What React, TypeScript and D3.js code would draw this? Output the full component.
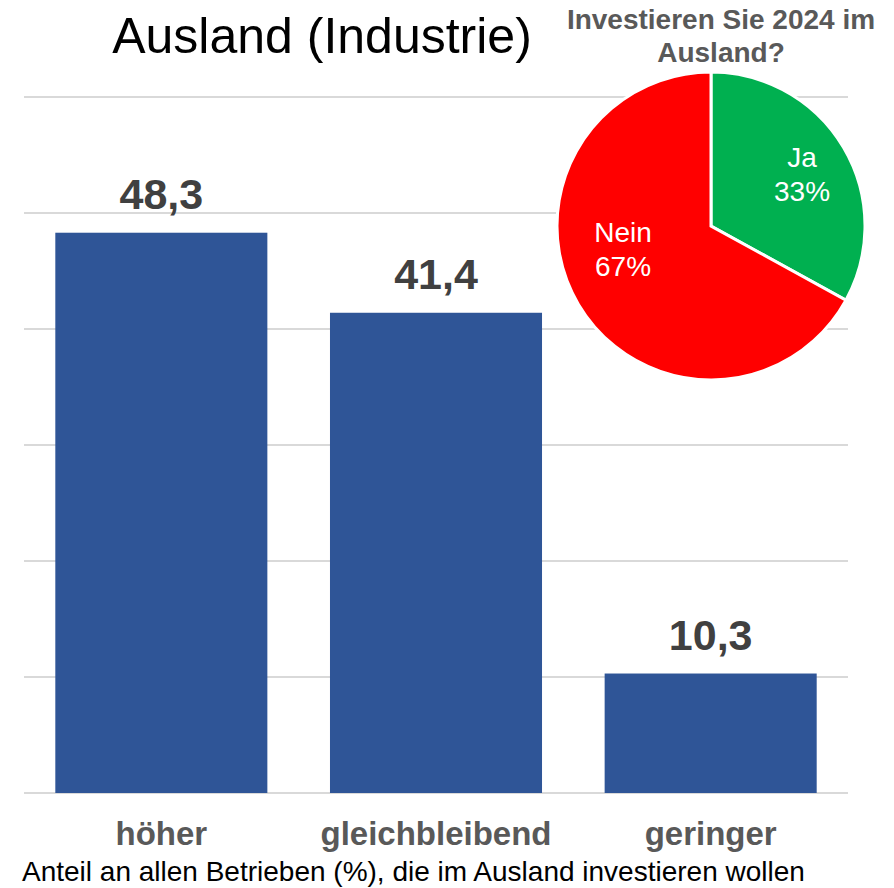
import React from "react";
import * as d3 from "d3";

const categories = ["höher", "gleichbleibend", "geringer"];
const values = [48.3, 41.4, 10.3];
const valueLabels = ["48,3", "41,4", "10,3"];
const yTicks = [0, 10, 20, 30, 40, 50, 60];
const pieLabels = ["Ja", "Nein"];
const pieValues = [33, 67];
const pieColors = ["#00B050", "#FF0000"];

const W = 894;
const H = 888;
const FONT = "'Liberation Sans', Arial, sans-serif";

// label anchor positions relative to pie centre (layout only)
const pieLabelPos = [
  [91, -59],
  [-88, 16],
];

export default function App() {
  const x = d3.scaleBand<string>().domain(categories).range([24, 848]).paddingInner(0.228).paddingOuter(0.114);
  const y = d3.scaleLinear().domain([0, 60]).range([793, 97]);

  const pie = d3.pie<number>().sort(null).startAngle(0).endAngle(2 * Math.PI)(pieValues);
  const R = 154;
  const arc = d3.arc<d3.PieArcDatum<number>>().innerRadius(0).outerRadius(R);
  const cx = 711;
  const cy = 226;

  return (
    <svg width={W} height={H} style={{ position: "absolute", left: 0, top: 0, background: "#fff" }} fontFamily={FONT}>
      <rect x={0} y={0} width={W} height={H} fill="#fff" />
      {yTicks.map((t) => (
        <line key={t} x1={24} x2={848} y1={y(t)} y2={y(t)} stroke="#D9D9D9" strokeWidth={2} />
      ))}
      {categories.map((c, i) => (
        <g key={c}>
          <rect x={x(c)!} y={y(values[i])} width={x.bandwidth()} height={y(0) - y(values[i])} fill="#2F5597" />
          <text x={x(c)! + x.bandwidth() / 2} y={y(values[i]) - 24} textAnchor="middle" fontSize={43} fontWeight="bold" fill="#404040">
            {valueLabels[i]}
          </text>
          <text x={x(c)! + x.bandwidth() / 2} y={845} textAnchor="middle" fontSize={33} fontWeight="bold" fill="#595959">
            {c}
          </text>
        </g>
      ))}
      <text x={322} y={53} textAnchor="middle" fontSize={50} fill="#000">Ausland (Industrie)</text>
      <text x={22} y={881} fontSize={28} fill="#000">Anteil an allen Betrieben (%), die im Ausland investieren wollen</text>

      <g transform={`translate(${cx},${cy})`}>
        {pie.map((p, i) => (
          <path key={i} d={arc(p)!} fill={pieColors[i]} stroke="#fff" strokeWidth={3} />
        ))}
        {pie.map((p, i) => {
          const [lx, ly] = pieLabelPos[i];
          return (
            <text key={"l" + i} x={lx} y={ly} textAnchor="middle" fontSize={28} fill="#fff">
              <tspan x={lx} dy={0}>{pieLabels[i]}</tspan>
              <tspan x={lx} dy={34}>{pieValues[i]}%</tspan>
            </text>
          );
        })}
      </g>
      <text x={721} y={29} textAnchor="middle" fontSize={28} fontWeight="bold" fill="#595959">Investieren Sie 2024 im</text>
      <text x={721} y={62} textAnchor="middle" fontSize={28} fontWeight="bold" fill="#595959">Ausland?</text>
    </svg>
  );
}
